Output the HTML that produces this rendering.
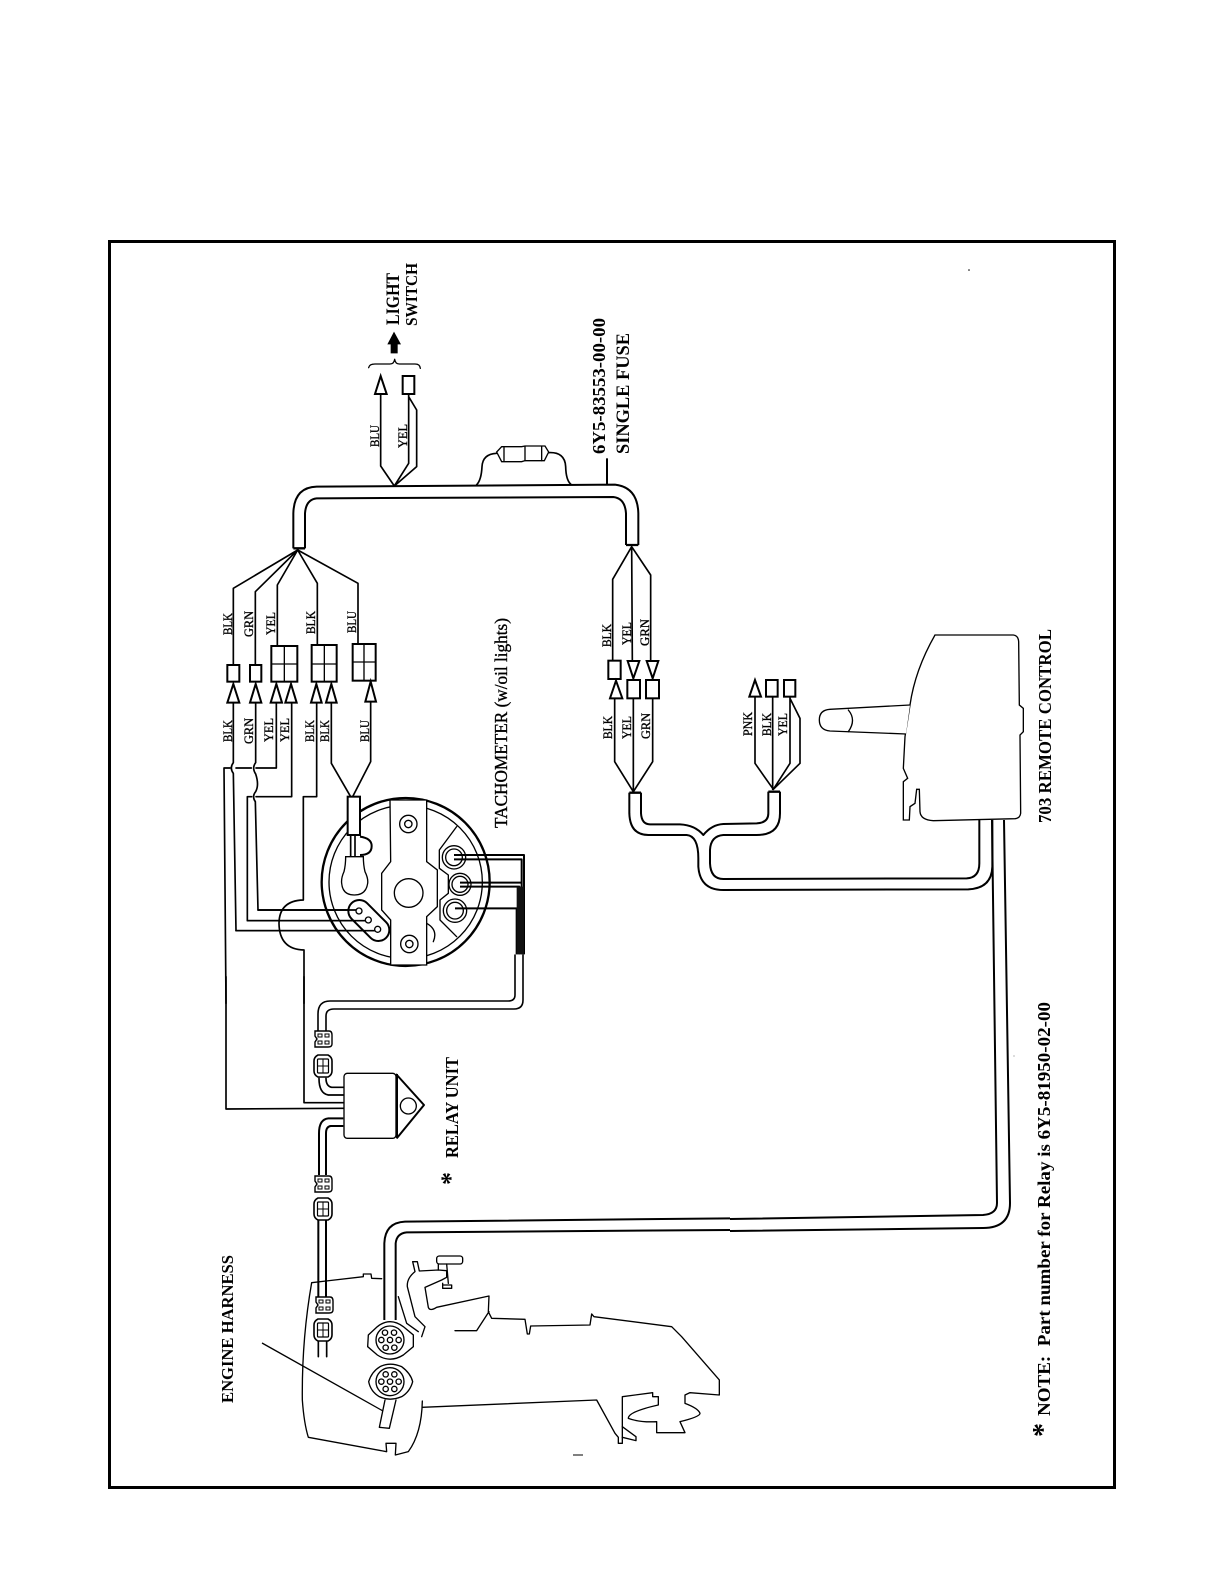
<!DOCTYPE html>
<html><head><meta charset="utf-8"><title>Wiring diagram</title>
<style>
html,body{margin:0;padding:0;background:#fff;width:1224px;height:1584px;overflow:hidden}
svg{display:block}
text{font-family:"Liberation Serif",serif;fill:#000}
.w{fill:none;stroke:#000;stroke-width:5;stroke-linejoin:round;stroke-linecap:round}
.t{fill:none;stroke:#000;stroke-width:6;stroke-linejoin:round}
.b{fill:#fff;stroke:#000;stroke-width:6;stroke-linejoin:miter}
.n{fill:none;stroke:#000;stroke-width:4;stroke-linejoin:round;stroke-linecap:round}
.f{fill:#fff;stroke:#000;stroke-width:4}
</style></head><body>
<svg xmlns="http://www.w3.org/2000/svg" width="1224" height="1584" viewBox="0 0 1224 1584">
<defs>
<g id="ca"><path d="M-8,-8 H6 Q9,-8 9,-4 V5 Q9,8 5,8 H-8 V3 L-6,0 L-8,-3 Z" fill="#fff" stroke="#000" stroke-width="1.4"/><rect x="-5" y="-5" width="4" height="3" fill="none" stroke="#000" stroke-width="1"/><rect x="2" y="-5" width="4" height="3" fill="none" stroke="#000" stroke-width="1"/><rect x="-5" y="2" width="4" height="3" fill="none" stroke="#000" stroke-width="1"/><rect x="2" y="2" width="4" height="3" fill="none" stroke="#000" stroke-width="1"/></g>
<g id="cb"><path d="M-5,-11 H5 Q9,-9 9,-5 V5 Q9,9 5,11 H-5 Q-9,9 -9,5 V-5 Q-9,-9 -5,-11 Z" fill="#fff" stroke="#000" stroke-width="1.6"/><rect x="-5.500" y="-7" width="11" height="14" rx="1" fill="none" stroke="#000" stroke-width="1.2"/><path d="M-5.500,0 H5.500 M0,-7 V7" stroke="#000" stroke-width="1"/></g>
</defs>
<rect x="109.500" y="241.500" width="1005" height="1246" fill="none" stroke="#000" stroke-width="3"/>

<!-- Z3: top harness -->
<g transform="translate(280,250) scale(.33333)">
<path class="t" d="M40,895 V790 Q42,712 110,710 L1005,704 Q1073,712 1075,790 V885"/>
<path class="t" d="M75,895 V790 Q78,748 110,745 L1000,741 Q1035,745 1038,790 V885"/>
<path d="M40,895 H75 M1038,885 H1075" stroke="#000" stroke-width="7"/>
<path class="w" d="M302,432 V648 L343,708 L386,640 V432 M386,440 L410,480 V650 L343,708"/>
<polygon class="b" points="302,378 285,432 320,432"/>
<rect class="b" x="368" y="378" width="35" height="54"/>
<path class="n" d="M266,353 Q268,342 285,342 H330 Q342,342 344,328 Q346,342 358,342 H405 Q420,342 421,355"/>
<polygon points="342,245 322,283 332,283 332,310 353,310 353,283 363,283"/>
<path class="w" d="M590,704 Q604,690 606,650 Q608,612 650,610 M805,608 Q855,605 857,650 Q858,690 872,702"/>
<path class="f" d="M650,606 L665,590 H725 L735,588 H795 L806,606 L793,632 H735 L725,635 H665 Z"/>
<path class="n" d="M672,592 V632 M735,590 V632 M785,590 V632"/>
<path d="M981,625 V702" stroke="#000" stroke-width="6"/>
</g>

<!-- Z1: tachometer -->
<g transform="translate(200,540) scale(.33333)">
<path class="w" d="M293,30 L100,145 V375 M293,30 L166,155 V375 M293,30 L232,135 V318 M293,30 L352,130 V315 M293,30 L474,130 V312"/>
<rect class="b" x="82" y="375" width="36" height="50"/>
<rect class="b" x="150" y="375" width="34" height="50"/>
<rect class="b" x="214" y="318" width="78" height="107"/><path class="n" d="M253,318 V425 M214,372 H292"/>
<rect class="b" x="335" y="315" width="75" height="110"/><path class="n" d="M373,315 V425 M335,372 H410"/>
<rect class="b" x="458" y="312" width="69" height="110"/><path class="n" d="M492,312 V422 M458,366 H527"/>
<polygon class="b" points="100,432 82,488 118,488"/>
<polygon class="b" points="167,432 150,488 184,488"/>
<polygon class="b" points="229,432 212,488 246,488"/>
<polygon class="b" points="273,432 256,488 290,488"/>
<polygon class="b" points="349,432 333,488 365,488"/>
<polygon class="b" points="394,432 378,488 410,488"/>
<polygon class="b" points="512,425 496,485 528,485"/>
<path class="w" d="M100,488 V668 Q88,684 100,700 L108,1172 H533"/>
<path class="w" d="M167,488 V668 Q155,684 167,702 Q178,735 167,755 Q155,770 166,785 L174,1110 H478"/>
<path class="w" d="M229,488 V684 H168 M154,684 H108 M90,684 H72 L78,1390"/>
<path class="w" d="M275,488 V770 H168 M155,770 H142 V1142 H505"/>
<path class="w" d="M350,488 V770 H310 V1080 Q238,1082 237,1150 Q238,1228 312,1230 V1390" stroke-width="6"/>
<path class="w" d="M394,488 V670 L452,770 M512,485 V665 L458,770"/>

<circle cx="617" cy="1026" r="252" fill="none" stroke="#000" stroke-width="7"/>
<circle cx="617" cy="1026" r="230" fill="none" stroke="#000" stroke-width="4"/>
<path class="f" stroke-width="6" d="M570,780 H680 V965 L712,990 V1100 L680,1130 V1275 H572 V1140 L545,1110 V1000 L572,965 Z"/>
<circle cx="626" cy="1059" r="43" class="f" stroke-width="3"/>
<circle cx="625" cy="852" r="26" class="f" stroke-width="6"/><circle cx="625" cy="852" r="11" class="f" stroke-width="3"/>
<circle cx="628" cy="1212" r="26" class="f" stroke-width="6"/><circle cx="628" cy="1212" r="11" class="f" stroke-width="3"/>
<path class="n" d="M770,860 L718,930 V985 L745,1005 V1060 L720,1080 V1140 L770,1190 M680,1150 Q715,1170 700,1205"/>
<g class="f"><circle cx="762" cy="952" r="35"/><circle cx="762" cy="952" r="25"/><circle cx="780" cy="1033" r="33"/><circle cx="780" cy="1033" r="24"/><circle cx="765" cy="1112" r="35"/><circle cx="765" cy="1112" r="25"/></g>
<path class="t" d="M762,945 H972 V1243 M762,958 H965 V1243 M780,1028 H962 M780,1040 H958 V1243 M765,1105 H950 V1243"/>
<rect x="950" y="1040" width="22" height="203" fill="#111"/>
<path d="M478,1113 L535,1170" stroke="#000" stroke-width="72" stroke-linecap="round"/>
<path d="M478,1113 L535,1170" stroke="#fff" stroke-width="60" stroke-linecap="round"/>
<path class="w" d="M174,1110 H478 M142,1142 H505 M108,1172 H533"/>
<circle cx="477" cy="1113" r="9" class="f"/><circle cx="505" cy="1140" r="9" class="f"/><circle cx="533" cy="1168" r="9" class="f"/>
<path class="t" d="M480,890 Q515,895 515,918 Q515,945 480,945"/>
<path class="w" d="M452,885 V950 M465,885 V950"/>
<path class="f" stroke-width="6" d="M437,950 H490 Q490,975 495,995 Q505,1015 503,1030 Q498,1065 463,1065 Q428,1065 425,1030 Q423,1015 432,995 Q437,975 437,950 Z"/>
<rect class="b" x="443" y="770" width="37" height="115"/>
</g>

<path class="w" style="stroke-width:1.6" d="M515,955 V995 Q515,1001 508,1001 H330 Q318,1001 318,1014 V1032"/>
<path class="w" style="stroke-width:1.6" d="M523,955 V1000 Q523,1009 514,1009 H334 Q326,1009 326,1016 V1032"/>

<!-- Z2: relay -->
<g transform="translate(200,980) scale(.33333)">
<path class="w" d="M430,368 H312 V-10 M430,385 L78,387 V-10" stroke-width="6"/>
<path class="w" d="M430,345 H385 Q357,340 357,295 M430,322 H395 Q378,318 378,295"/>
<path class="t" d="M430,415 H385 Q357,418 357,460 V585 M430,438 H392 Q378,440 378,460 V585"/>
<rect class="f" stroke-width="6" x="432" y="280" width="156" height="195" rx="10"/>
<path class="t" d="M588,282 L672,375 L590,475 M591,282 V475"/>
<circle cx="625" cy="378" r="24" class="f"/>
<path class="t" d="M355,720 V950 M378,720 V950" stroke-width="7"/>
<path class="w" d="M355,1085 V1130 M380,1085 V1130"/>
</g>
<use href="#ca" x="323" y="1039"/>
<use href="#cb" x="323" y="1066"/>
<use href="#ca" x="323" y="1184"/>
<use href="#cb" x="323" y="1209"/>
<use href="#ca" x="324" y="1305"/>
<use href="#cb" x="323" y="1330"/>

<!-- long harness -->
<path fill="none" stroke="#000" stroke-width="2" stroke-linejoin="round" d="M730,1219 L983,1215 Q997,1214 997,1203 L992,820"/>
<path fill="none" stroke="#000" stroke-width="2" stroke-linejoin="round" d="M730,1231 L983,1228 Q1010,1228 1010,1203 L1004,820"/>

<!-- Z5: engine -->
<g transform="translate(290,1200) scale(.33333)">
<path class="n" stroke-width="5" d="M108,243 L220,230 V222 H243 L245,235 L275,236"/>
<path class="n" stroke-width="5" d="M108,243 L65,248 Q35,420 37,600 Q42,670 55,712 L290,755 L288,730 H318 L316,765 L355,755 Q395,700 397,603"/>
<path class="n" stroke-width="5" d="M397,622 L920,600 L975,700 L985,712 V730 H997 V590 L1088,578 V590 H1105 V615 Q1015,635 1015,655 Q1050,668 1100,665 V698 H1185 L1170,665 Q1230,650 1230,640 Q1225,625 1185,610 V585 L1200,578 L1288,585 V540 L1175,410 L1145,380 L912,350 L905,342 L900,375 L722,378 L718,402 H712 L705,358 L605,355 L595,335 L597,288 L440,322 Q420,335 415,322 L405,262 L455,240 L470,232 V212 L445,210 L388,213 L382,185 H368 L375,215 Q350,235 352,260 L375,350 L405,380 L395,410"/>
<path class="n" stroke-width="5" d="M597,335 L560,392 H495 M997,680 L1038,710 V722 L997,712 M325,290 L350,370 L385,395"/>
<rect x="440" y="168" width="78" height="24" rx="8" class="f" stroke-width="5"/>
<path class="n" stroke-width="5" d="M445,192 V210 M470,192 L475,250 M458,250 V265 H485 V255 H458"/>
<path class="t" d="M283,360 V130 Q285,68 345,65 L1320,55"/>
<path class="t" d="M317,360 V130 Q320,100 350,97 L1320,90"/>
<path class="n" stroke-width="5" d="M285,600 L268,682 L298,685 L318,600"/>
<path class="f" stroke-width="7" d="M235,405 L262,380 Q300,350 340,380 L370,405 V440 L340,465 Q300,490 262,465 L233,440 Z"/>
<circle cx="300" cy="420" r="42" class="f"/>
<g class="f"><circle cx="285" cy="398" r="8"/><circle cx="312" cy="398" r="8"/><circle cx="274" cy="420" r="8"/><circle cx="300" cy="420" r="8"/><circle cx="326" cy="420" r="8"/><circle cx="287" cy="443" r="8"/><circle cx="313" cy="443" r="8"/></g>
<path class="f" stroke-width="6" d="M236,545 Q245,515 270,500 Q300,485 335,500 Q362,520 368,545 Q360,575 335,590 Q300,605 268,590 Q242,575 236,545 Z"/>
<circle cx="300" cy="545" r="42" class="f"/>
<g class="f"><circle cx="287" cy="523" r="8"/><circle cx="313" cy="523" r="8"/><circle cx="274" cy="545" r="8"/><circle cx="300" cy="545" r="8"/><circle cx="326" cy="545" r="8"/><circle cx="287" cy="567" r="8"/><circle cx="313" cy="567" r="8"/></g>
</g>
<path d="M262,1343 L383,1411" stroke="#000" stroke-width="1.3"/>
<path d="M573,1455 H583" stroke="#000" stroke-width="1"/>
<circle cx="969" cy="270" r=".8"/><circle cx="1014" cy="1056" r=".6" fill="#888"/>

<!-- Z4: remote -->
<g transform="translate(580,530) scale(.33333)">
<path class="w" d="M155,50 L98,148 V392 M155,50 L157,392 M155,50 L212,135 V392"/>
<rect class="b" x="85" y="392" width="37" height="55"/>
<polygon class="b" points="108,452 90,505 127,505"/>
<polygon class="b" points="143,393 178,393 160,445"/>
<rect class="b" x="142" y="450" width="38" height="55"/>
<polygon class="b" points="200,393 235,393 218,445"/>
<rect class="b" x="198" y="450" width="39" height="55"/>
<path class="w" d="M104,505 V695 L160,785 M160,505 V785 M218,505 V695 L160,785"/>
<path d="M148,788 H183 M565,785 H600" stroke="#000" stroke-width="7"/>
<path class="t" d="M148,788 V850 Q150,915 205,915 H320 Q355,918 355,985 V1010 Q360,1080 430,1080 L1165,1078 Q1235,1075 1237,1010 V870"/>
<path class="t" d="M183,788 V850 Q185,883 210,883 H300 Q345,885 370,915 Q395,884 430,882 L530,880 Q565,878 565,850 V785"/>
<path class="t" d="M600,785 V850 Q600,915 530,915 H430 Q392,918 390,960 V1000 Q392,1047 430,1047 L1160,1045 Q1198,1043 1198,1000 V870"/>
<polygon class="b" points="525,450 508,500 543,500"/>
<rect class="b" x="558" y="450" width="35" height="50"/>
<rect class="b" x="612" y="450" width="34" height="50"/>
<path class="w" d="M525,500 V700 L580,778 M578,500 V778 M630,500 V700 L580,778 M630,505 L660,565 V700 L580,778"/>
<path class="f" stroke-width="6" d="M1065,315 H1300 Q1315,317 1316,335 L1318,525 L1330,535 V605 L1320,615 L1322,850 Q1320,865 1305,866 L1060,872 Q1022,870 1020,845 L1018,778 H1010 L1005,820 L990,830 L988,870 H970 V755 L983,745 L970,715 L975,620 L990,525 Q1005,420 1065,315 Z"/>
<path class="f" stroke-width="5" d="M990,525 L750,538 Q718,540 718,570 Q718,600 750,603 L978,612"/>
<path class="n" d="M805,540 Q830,570 805,605"/>
</g>

<!-- Text -->
<g font-weight="bold">
<text transform="translate(399,325) rotate(-90)" font-size="19" textLength="52" lengthAdjust="spacingAndGlyphs">LIGHT</text>
<text transform="translate(417,326) rotate(-90)" font-size="17" textLength="63" lengthAdjust="spacingAndGlyphs">SWITCH</text>
<text transform="translate(605,454) rotate(-90)" font-size="18" textLength="136" lengthAdjust="spacingAndGlyphs">6Y5-83553-00-00</text>
<text transform="translate(629,454) rotate(-90)" font-size="19" textLength="121" lengthAdjust="spacingAndGlyphs">SINGLE FUSE</text>
<text transform="translate(1051,823) rotate(-90)" font-size="18" textLength="194" lengthAdjust="spacingAndGlyphs">703 REMOTE CONTROL</text>
<text transform="translate(458,1158) rotate(-90)" font-size="18" textLength="101" lengthAdjust="spacingAndGlyphs">RELAY UNIT</text>
<text transform="translate(459,1185) rotate(-90)" font-size="26">*</text>
<text transform="translate(1050,1416) rotate(-90)" font-size="18" textLength="414" lengthAdjust="spacingAndGlyphs" xml:space="preserve">NOTE:  Part number for Relay is 6Y5-81950-02-00</text>
<text transform="translate(1052,1437) rotate(-90)" font-size="28">*</text>
<text transform="translate(233,1403) rotate(-90)" font-size="17" textLength="148" lengthAdjust="spacingAndGlyphs">ENGINE HARNESS</text>
</g>
<text transform="translate(507,828) rotate(-90)" font-size="18" textLength="210" lengthAdjust="spacingAndGlyphs" stroke="#000" stroke-width=".35">TACHOMETER (w/oil lights)</text>
<g font-size="13" stroke="#000" stroke-width=".35">
<text transform="translate(379,447) rotate(-90)" textLength="22" lengthAdjust="spacingAndGlyphs">BLU</text>
<text transform="translate(407,448) rotate(-90)" textLength="24" lengthAdjust="spacingAndGlyphs">YEL</text>
<text transform="translate(232,635) rotate(-90)" textLength="22" lengthAdjust="spacingAndGlyphs">BLK</text>
<text transform="translate(253,637) rotate(-90)" textLength="26" lengthAdjust="spacingAndGlyphs">GRN</text>
<text transform="translate(275,635) rotate(-90)" textLength="23" lengthAdjust="spacingAndGlyphs">YEL</text>
<text transform="translate(315,634) rotate(-90)" textLength="23" lengthAdjust="spacingAndGlyphs">BLK</text>
<text transform="translate(356,633) rotate(-90)" textLength="22" lengthAdjust="spacingAndGlyphs">BLU</text>
<text transform="translate(232,742) rotate(-90)" textLength="22" lengthAdjust="spacingAndGlyphs">BLK</text>
<text transform="translate(253,744) rotate(-90)" textLength="26" lengthAdjust="spacingAndGlyphs">GRN</text>
<text transform="translate(273,742) rotate(-90)" textLength="24" lengthAdjust="spacingAndGlyphs">YEL</text>
<text transform="translate(289,742) rotate(-90)" textLength="24" lengthAdjust="spacingAndGlyphs">YEL</text>
<text transform="translate(314,742) rotate(-90)" textLength="22" lengthAdjust="spacingAndGlyphs">BLK</text>
<text transform="translate(329,742) rotate(-90)" textLength="22" lengthAdjust="spacingAndGlyphs">BLK</text>
<text transform="translate(369,742) rotate(-90)" textLength="22" lengthAdjust="spacingAndGlyphs">BLU</text>
<text transform="translate(611,647) rotate(-90)" textLength="23" lengthAdjust="spacingAndGlyphs">BLK</text>
<text transform="translate(631,645) rotate(-90)" textLength="23" lengthAdjust="spacingAndGlyphs">YEL</text>
<text transform="translate(649,646) rotate(-90)" textLength="27" lengthAdjust="spacingAndGlyphs">GRN</text>
<text transform="translate(612,739) rotate(-90)" textLength="23" lengthAdjust="spacingAndGlyphs">BLK</text>
<text transform="translate(631,739) rotate(-90)" textLength="23" lengthAdjust="spacingAndGlyphs">YEL</text>
<text transform="translate(650,739) rotate(-90)" textLength="26" lengthAdjust="spacingAndGlyphs">GRN</text>
<text transform="translate(752,736) rotate(-90)" textLength="24" lengthAdjust="spacingAndGlyphs">PNK</text>
<text transform="translate(771,736) rotate(-90)" textLength="23" lengthAdjust="spacingAndGlyphs">BLK</text>
<text transform="translate(787,736) rotate(-90)" textLength="23" lengthAdjust="spacingAndGlyphs">YEL</text>
</g>
</svg>
</body></html>
